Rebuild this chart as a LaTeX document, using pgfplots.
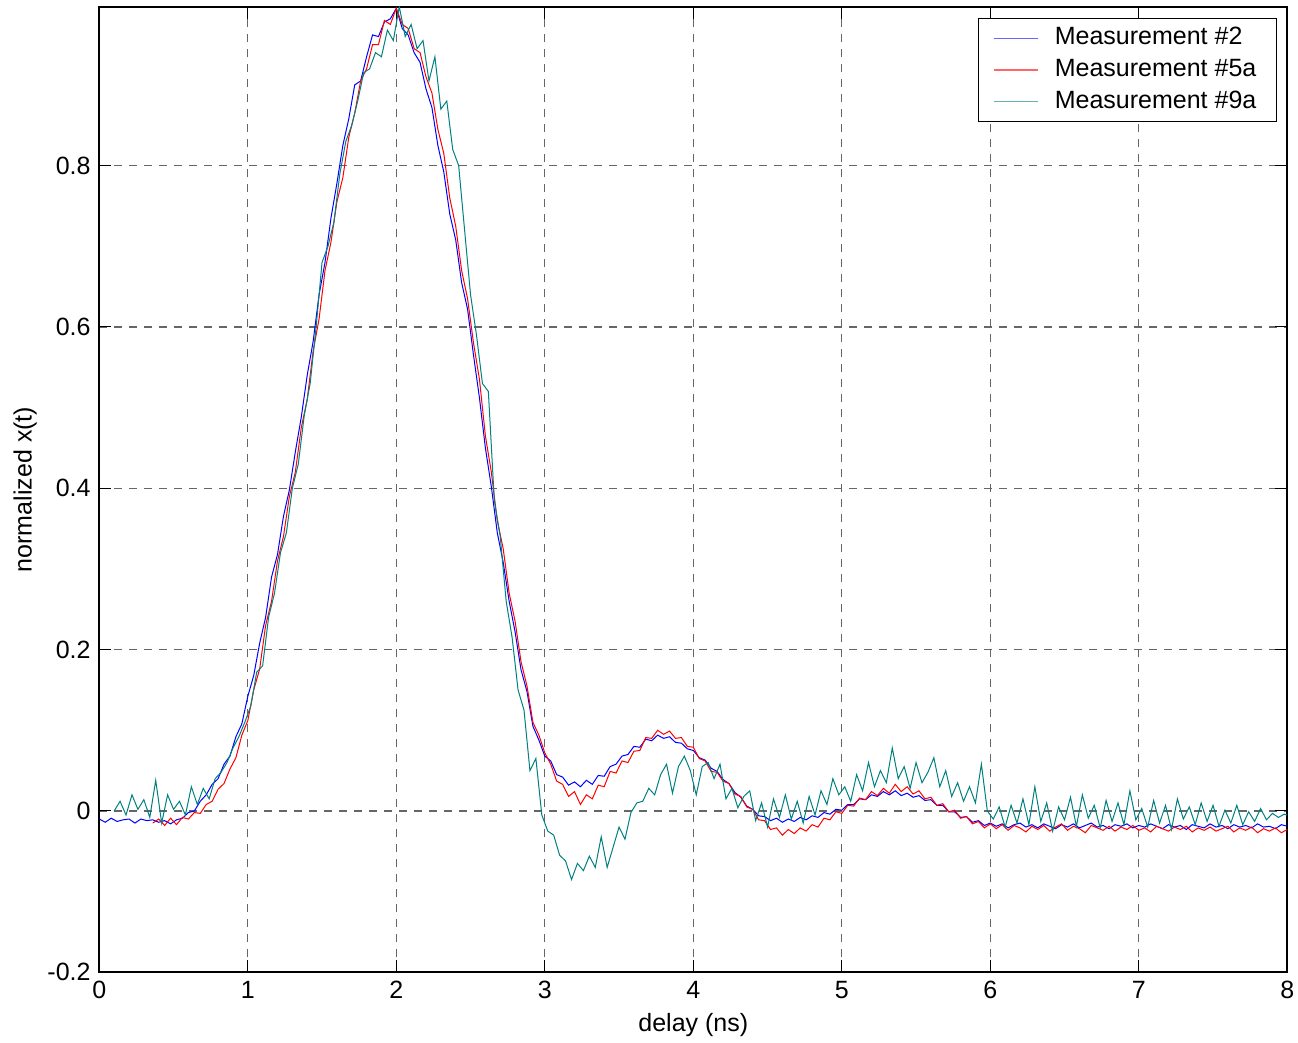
\documentclass[border=0pt]{standalone}
\usepackage{fontspec}
\setmainfont{Liberation Sans}
\usepackage{pgfplots}
\pgfplotsset{compat=1.18}
\definecolor{mteal}{RGB}{0,128,128}
\begin{document}
\fontsize{12.5}{15}\selectfont
\begin{tikzpicture}
\begin{axis}[
 at={(0,0)}, anchor=south west, scale only axis,
 width=594pt, height=482.8pt,
 xmin=0, xmax=8, ymin=-0.2, ymax=0.997,
 xtick={0,1,2,3,4,5,6,7,8},
 ytick={-0.2,0,0.2,0.4,0.6,0.8},
 yticklabels={-0.2,0,0.2,0.4,0.6,0.8},
 tick align=inside, tick style={black, line width=0.5pt}, major tick length=6pt,
 grid=major, grid style={dash pattern=on 4pt off 3.5pt, black!60, line width=0.6pt},
 axis line style={line width=0.9pt},
 /pgf/number format/assume math mode=true,
 tick label style={font=\fontsize{12.5}{15}\selectfont},
 label style={font=\fontsize{12.5}{15}\selectfont},
 xlabel={delay (ns)}, ylabel={normalized x(t)},
 every axis x label/.style={at={(axis description cs:0.5,-0.0546)},anchor=center},
 every axis y label/.style={at={(axis description cs:-0.0625,0.5)},rotate=90,anchor=center},
 legend style={at={(axis description cs:0.9913,0.9883)}, anchor=north east, draw=black, line width=0.6pt,
   font=\fontsize{12.5}{15}\selectfont, inner xsep=7.5pt, inner ysep=4.2pt, row sep=4.3pt,
   nodes={inner xsep=2.5pt, inner ysep=0pt, text height=9pt, text depth=2.5pt},
   /tikz/every odd column/.append style={column sep=5.5pt}},
 legend cell align=left,
 legend image code/.code={\draw[#1, line width=0.6pt, opacity=0.6] (0pt,0pt) -- (22pt,0pt);},
]
\addplot[blue, line width=0.5pt] coordinates {
(0.00,-0.010)(0.04,-0.014)(0.08,-0.009)(0.12,-0.013)(0.16,-0.011)(0.20,-0.010)(0.24,-0.015)(0.28,-0.010)
(0.32,-0.012)(0.36,-0.011)(0.40,-0.014)(0.44,-0.012)(0.48,-0.016)(0.52,-0.011)(0.56,-0.009)(0.60,-0.002)
(0.64,0.000)(0.68,0.012)(0.72,0.020)(0.76,0.033)(0.80,0.040)(0.84,0.058)(0.88,0.068)(0.92,0.092)
(0.96,0.108)(1.00,0.142)(1.04,0.168)(1.08,0.208)(1.12,0.240)(1.16,0.290)(1.20,0.318)(1.24,0.365)
(1.28,0.398)(1.32,0.445)(1.36,0.488)(1.40,0.540)(1.44,0.582)(1.48,0.640)(1.52,0.680)(1.56,0.735)
(1.60,0.778)(1.64,0.825)(1.68,0.858)(1.72,0.900)(1.76,0.905)(1.80,0.935)(1.84,0.962)(1.88,0.960)
(1.92,0.978)(1.96,0.982)(2.00,0.995)(2.04,0.970)(2.08,0.962)(2.12,0.940)(2.16,0.928)(2.20,0.895)
(2.24,0.872)(2.28,0.825)(2.32,0.792)(2.36,0.740)(2.40,0.708)(2.44,0.655)(2.48,0.622)(2.52,0.565)
(2.56,0.512)(2.60,0.450)(2.64,0.402)(2.68,0.345)(2.72,0.308)(2.76,0.260)(2.80,0.222)(2.84,0.175)
(2.88,0.148)(2.92,0.105)(2.96,0.088)(3.00,0.068)(3.04,0.062)(3.08,0.045)(3.12,0.042)(3.16,0.032)
(3.20,0.036)(3.24,0.030)(3.28,0.038)(3.32,0.033)(3.36,0.044)(3.40,0.043)(3.44,0.055)(3.48,0.058)
(3.52,0.068)(3.56,0.070)(3.60,0.080)(3.64,0.079)(3.68,0.089)(3.72,0.087)(3.76,0.094)(3.80,0.090)
(3.84,0.092)(3.88,0.085)(3.92,0.084)(3.96,0.077)(4.00,0.075)(4.04,0.066)(4.08,0.063)(4.12,0.053)
(4.16,0.049)(4.20,0.039)(4.24,0.034)(4.28,0.023)(4.32,0.017)(4.36,0.006)(4.40,0.002)(4.44,-0.006)
(4.48,-0.007)(4.52,-0.012)(4.56,-0.009)(4.60,-0.014)(4.64,-0.010)(4.68,-0.013)(4.72,-0.008)(4.76,-0.011)
(4.80,-0.006)(4.84,-0.008)(4.88,-0.002)(4.92,-0.004)(4.96,0.002)(5.00,0.001)(5.04,0.008)(5.08,0.008)
(5.12,0.015)(5.16,0.014)(5.20,0.020)(5.24,0.018)(5.28,0.024)(5.32,0.020)(5.36,0.025)(5.40,0.019)
(5.44,0.022)(5.48,0.017)(5.52,0.019)(5.56,0.013)(5.60,0.014)(5.64,0.007)(5.68,0.007)(5.72,-0.001)
(5.76,-0.001)(5.80,-0.008)(5.84,-0.007)(5.88,-0.014)(5.92,-0.012)(5.96,-0.018)(6.00,-0.015)(6.04,-0.019)
(6.08,-0.016)(6.12,-0.021)(6.16,-0.017)(6.20,-0.015)(6.24,-0.020)(6.28,-0.017)(6.32,-0.021)(6.36,-0.016)
(6.40,-0.019)(6.44,-0.022)(6.48,-0.017)(6.52,-0.020)(6.56,-0.016)(6.60,-0.021)(6.64,-0.018)(6.68,-0.015)
(6.72,-0.020)(6.76,-0.018)(6.80,-0.022)(6.84,-0.017)(6.88,-0.019)(6.92,-0.016)(6.96,-0.021)(7.00,-0.018)
(7.04,-0.020)(7.08,-0.016)(7.12,-0.019)(7.16,-0.022)(7.20,-0.017)(7.24,-0.020)(7.28,-0.018)(7.32,-0.023)
(7.36,-0.017)(7.40,-0.019)(7.44,-0.021)(7.48,-0.016)(7.52,-0.020)(7.56,-0.018)(7.60,-0.022)(7.64,-0.017)
(7.68,-0.020)(7.72,-0.018)(7.76,-0.021)(7.80,-0.016)(7.84,-0.020)(7.88,-0.019)(7.92,-0.022)(7.96,-0.017)
(8.00,-0.019)
};
\addlegendentry{Measurement \#2}
\addplot[red, line width=0.5pt] coordinates {
(0.36,-0.015)(0.40,-0.010)(0.44,-0.018)(0.48,-0.009)(0.52,-0.017)(0.56,-0.008)(0.60,-0.010)(0.64,-0.002)
(0.68,-0.003)(0.72,0.008)(0.76,0.012)(0.80,0.027)(0.84,0.034)(0.88,0.052)(0.92,0.066)(0.96,0.094)
(1.00,0.112)(1.04,0.150)(1.08,0.176)(1.12,0.230)(1.16,0.260)(1.20,0.310)(1.24,0.340)(1.28,0.390)
(1.32,0.420)(1.36,0.475)(1.40,0.510)(1.44,0.570)(1.48,0.610)(1.52,0.670)(1.56,0.705)(1.60,0.755)
(1.64,0.785)(1.68,0.835)(1.72,0.865)(1.76,0.905)(1.80,0.920)(1.84,0.950)(1.88,0.950)(1.92,0.980)
(1.96,0.975)(2.00,0.995)(2.04,0.975)(2.08,0.970)(2.12,0.945)(2.16,0.940)(2.20,0.910)(2.24,0.890)
(2.28,0.845)(2.32,0.815)(2.36,0.760)(2.40,0.725)(2.44,0.670)(2.48,0.635)(2.52,0.580)(2.56,0.535)
(2.60,0.465)(2.64,0.420)(2.68,0.360)(2.72,0.325)(2.76,0.270)(2.80,0.235)(2.84,0.185)(2.88,0.155)
(2.92,0.110)(2.96,0.094)(3.00,0.072)(3.04,0.058)(3.08,0.037)(3.12,0.033)(3.16,0.018)(3.20,0.024)
(3.24,0.008)(3.28,0.020)(3.32,0.015)(3.36,0.032)(3.40,0.030)(3.44,0.049)(3.48,0.047)(3.52,0.062)
(3.56,0.060)(3.60,0.074)(3.64,0.075)(3.68,0.091)(3.72,0.090)(3.76,0.100)(3.80,0.095)(3.84,0.099)
(3.88,0.090)(3.92,0.091)(3.96,0.080)(4.00,0.079)(4.04,0.065)(4.08,0.062)(4.12,0.049)(4.16,0.048)
(4.20,0.037)(4.24,0.034)(4.28,0.021)(4.32,0.018)(4.36,0.005)(4.40,0.002)(4.44,-0.011)(4.48,-0.012)
(4.52,-0.023)(4.56,-0.021)(4.60,-0.030)(4.64,-0.023)(4.68,-0.028)(4.72,-0.021)(4.76,-0.025)(4.80,-0.017)
(4.84,-0.020)(4.88,-0.009)(4.92,-0.011)(4.96,-0.001)(5.00,-0.003)(5.04,0.007)(5.08,0.006)(5.12,0.016)
(5.16,0.014)(5.20,0.024)(5.24,0.019)(5.28,0.028)(5.32,0.022)(5.36,0.033)(5.40,0.024)(5.44,0.030)
(5.48,0.021)(5.52,0.025)(5.56,0.015)(5.60,0.017)(5.64,0.007)(5.68,0.009)(5.72,-0.001)(5.76,0.001)
(5.80,-0.009)(5.84,-0.007)(5.88,-0.016)(5.92,-0.013)(5.96,-0.021)(6.00,-0.016)(6.04,-0.022)(6.08,-0.017)
(6.12,-0.024)(6.16,-0.018)(6.20,-0.021)(6.24,-0.026)(6.28,-0.019)(6.32,-0.023)(6.36,-0.018)(6.40,-0.025)
(6.44,-0.020)(6.48,-0.016)(6.52,-0.024)(6.56,-0.019)(6.60,-0.022)(6.64,-0.027)(6.68,-0.018)(6.72,-0.021)
(6.76,-0.024)(6.80,-0.019)(6.84,-0.025)(6.88,-0.020)(6.92,-0.023)(6.96,-0.018)(7.00,-0.024)(7.04,-0.021)
(7.08,-0.026)(7.12,-0.019)(7.16,-0.022)(7.20,-0.025)(7.24,-0.020)(7.28,-0.023)(7.32,-0.019)(7.36,-0.026)
(7.40,-0.021)(7.44,-0.024)(7.48,-0.020)(7.52,-0.025)(7.56,-0.022)(7.60,-0.019)(7.64,-0.026)(7.68,-0.021)
(7.72,-0.024)(7.76,-0.020)(7.80,-0.027)(7.84,-0.022)(7.88,-0.025)(7.92,-0.021)(7.96,-0.027)(8.00,-0.023)
};
\addlegendentry{Measurement \#5a}
\addplot[mteal, line width=0.5pt] coordinates {
(0.10,0.000)(0.14,0.012)(0.18,-0.005)(0.22,0.020)(0.26,0.002)(0.30,0.014)(0.34,-0.008)(0.38,0.038)
(0.42,-0.015)(0.46,0.020)(0.50,0.002)(0.54,0.012)(0.58,-0.005)(0.62,0.030)(0.66,0.008)(0.70,0.028)
(0.74,0.015)(0.78,0.040)(0.82,0.048)(0.86,0.060)(0.90,0.078)(0.94,0.092)(0.98,0.110)(1.02,0.130)
(1.06,0.172)(1.10,0.180)(1.14,0.240)(1.18,0.270)(1.22,0.320)(1.26,0.345)(1.30,0.400)(1.34,0.430)
(1.38,0.490)(1.42,0.530)(1.46,0.600)(1.50,0.680)(1.54,0.700)(1.58,0.730)(1.62,0.790)(1.66,0.830)
(1.70,0.850)(1.74,0.880)(1.78,0.915)(1.82,0.920)(1.86,0.940)(1.90,0.935)(1.94,0.968)(1.98,0.955)
(2.02,0.997)(2.06,0.960)(2.10,0.975)(2.14,0.945)(2.18,0.955)(2.22,0.905)(2.26,0.935)(2.30,0.870)
(2.34,0.880)(2.38,0.820)(2.42,0.800)(2.46,0.720)(2.50,0.640)(2.54,0.590)(2.58,0.530)(2.62,0.520)
(2.66,0.385)(2.70,0.340)(2.74,0.260)(2.78,0.215)(2.82,0.150)(2.86,0.125)(2.90,0.050)(2.94,0.065)
(2.98,-0.005)(3.02,-0.025)(3.06,-0.030)(3.10,-0.055)(3.14,-0.062)(3.18,-0.085)(3.22,-0.065)(3.26,-0.074)
(3.30,-0.056)(3.34,-0.070)(3.38,-0.032)(3.42,-0.070)(3.46,-0.045)(3.50,-0.020)(3.54,-0.035)(3.58,-0.002)
(3.62,0.010)(3.66,0.012)(3.70,0.028)(3.74,0.020)(3.78,0.045)(3.82,0.058)(3.86,0.022)(3.90,0.055)
(3.94,0.068)(3.98,0.050)(4.02,0.020)(4.06,0.055)(4.10,0.060)(4.14,0.040)(4.18,0.058)(4.22,0.015)
(4.26,0.028)(4.30,0.004)(4.34,0.018)(4.38,0.025)(4.42,-0.012)(4.46,0.010)(4.50,-0.020)(4.54,0.015)
(4.58,-0.008)(4.62,0.020)(4.66,-0.010)(4.70,0.012)(4.74,-0.015)(4.78,0.018)(4.82,-0.005)(4.86,0.025)
(4.90,0.008)(4.94,0.040)(4.98,0.020)(5.02,0.030)(5.06,0.012)(5.10,0.045)(5.14,0.025)(5.18,0.060)
(5.22,0.030)(5.26,0.050)(5.30,0.035)(5.34,0.078)(5.38,0.040)(5.42,0.055)(5.46,0.028)(5.50,0.060)
(5.54,0.035)(5.58,0.048)(5.62,0.066)(5.66,0.030)(5.70,0.050)(5.74,0.018)(5.78,0.035)(5.82,0.012)
(5.86,0.030)(5.90,0.010)(5.94,0.058)(5.98,0.000)(6.02,-0.010)(6.06,0.005)(6.10,-0.020)(6.14,0.007)
(6.18,-0.015)(6.22,0.015)(6.26,-0.017)(6.30,0.030)(6.34,-0.013)(6.38,0.010)(6.42,-0.025)(6.46,0.005)
(6.50,-0.011)(6.54,0.017)(6.58,-0.019)(6.62,0.020)(6.66,-0.009)(6.70,0.007)(6.74,-0.021)(6.78,0.013)
(6.82,-0.013)(6.86,0.010)(6.90,-0.017)(6.94,0.025)(6.98,-0.011)(7.02,0.003)(7.06,-0.020)(7.10,0.013)
(7.14,-0.015)(7.18,0.007)(7.22,-0.023)(7.26,0.015)(7.30,-0.010)(7.34,0.005)(7.38,-0.017)(7.42,0.010)
(7.46,-0.013)(7.50,0.007)(7.54,-0.019)(7.58,0.001)(7.62,-0.015)(7.66,0.007)(7.70,-0.017)(7.74,-0.001)
(7.78,-0.013)(7.82,0.003)(7.86,-0.011)(7.90,-0.003)(7.94,-0.008)(7.98,-0.004)(8.00,-0.005)
};
\addlegendentry{Measurement \#9a}
\end{axis}
\pgfresetboundingbox
\path[use as bounding box] (-49.65pt,-35.35pt) rectangle (599.35pt,486.15pt);
\end{tikzpicture}
\end{document}
